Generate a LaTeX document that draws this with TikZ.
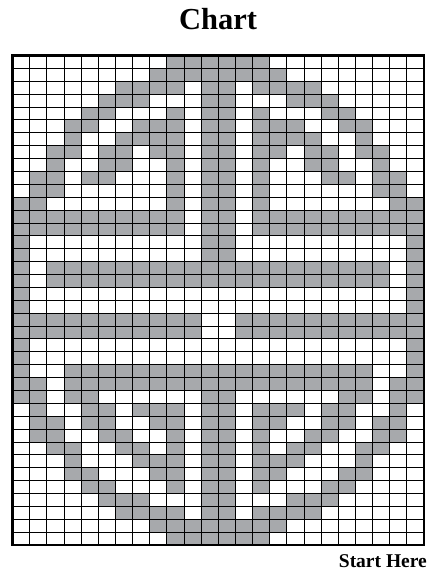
\documentclass[tikz,border=0pt]{standalone}
\usepackage{fontspec}
\setmainfont{Liberation Serif}
\definecolor{cellgray}{RGB}{167,169,172}
\tikzset{
  gridline/.style={black, line width=0.85pt},
  frameline/.style={black, line width=2.4pt},
  cellfill/.style={fill=cellgray},
  titletext/.style={font=\bfseries\fontsize{30.5}{32}\selectfont, inner sep=0pt},
  starttext/.style={font=\bfseries\fontsize{19.5}{21}\selectfont, inner sep=0pt}
}
\begin{document}
\begin{tikzpicture}[x=1pt,y=-1pt]
\useasboundingbox (0,0) rectangle (430,578);
\def\cw{17.146}
\def\ch{12.882}
\def\ox{12.5}
\def\oy{55.5}
% gray cells (left half given, mirrored to the right half)
\foreach \r/\cols in {
  1/{10,11,12},
  2/{9,10,11,12},
  3/{7,8,9,10,12},
  4/{6,7,8,12},
  5/{5,6,10,12},
  6/{4,5,8,9,10,12},
  7/{4,7,8,9,10,12},
  8/{3,4,6,7,9,10,12},
  9/{3,6,7,10,12},
  10/{2,3,5,6,10,12},
  11/{2,3,10,12},
  12/{1,2,10,12},
  13/{1,2,3,4,5,6,7,8,9,10,12},
  14/{1,2,3,4,5,6,7,8,9,10,12},
  15/{1,12},
  16/{1,12},
  17/{1,3,4,5,6,7,8,9,10,11,12},
  18/{1,3,4,5,6,7,8,9,10,11,12},
  19/{1},
  20/{1},
  21/{1,2,3,4,5,6,7,8,9,10,11},
  22/{1,2,3,4,5,6,7,8,9,10,11},
  23/{1},
  24/{1},
  25/{1,4,5,6,7,8,9,10,11,12},
  26/{1,2,4,5,6,7,8,9,10,11,12},
  27/{1,2,4,5,12},
  28/{2,5,6,8,9,10,12},
  29/{2,3,5,6,9,10,12},
  30/{2,3,6,7,10,12},
  31/{3,4,7,8,10,12},
  32/{4,8,9,10,12},
  33/{4,5,9,10,12},
  34/{5,6,10,12},
  35/{6,7,8,12},
  36/{7,8,9,10,12},
  37/{9,10,11,12},
  38/{10,11,12}} {
  \foreach \c in \cols {
    \fill[cellfill] ({\ox+(\c-1)*\cw},{\oy+(\r-1)*\ch}) rectangle ++(\cw,\ch);
    \fill[cellfill] ({\ox+(24-\c)*\cw},{\oy+(\r-1)*\ch}) rectangle ++(\cw,\ch);
  }
}
% grid lines
\foreach \i in {1,...,23} {
  \draw[gridline] ({\ox+\i*\cw},\oy) -- ++(0,{38*\ch});
}
\foreach \j in {1,...,37} {
  \draw[gridline] (\ox,{\oy+\j*\ch}) -- ++({24*\cw},0);
}
\draw[frameline] (\ox,\oy) rectangle ++({24*\cw},{38*\ch});
% texts
\node[titletext, anchor=base] (title) at (218,30) {Chart};
\node[starttext, anchor=base east] (start) at (427,567) {Start Here};
\end{tikzpicture}
\end{document}
